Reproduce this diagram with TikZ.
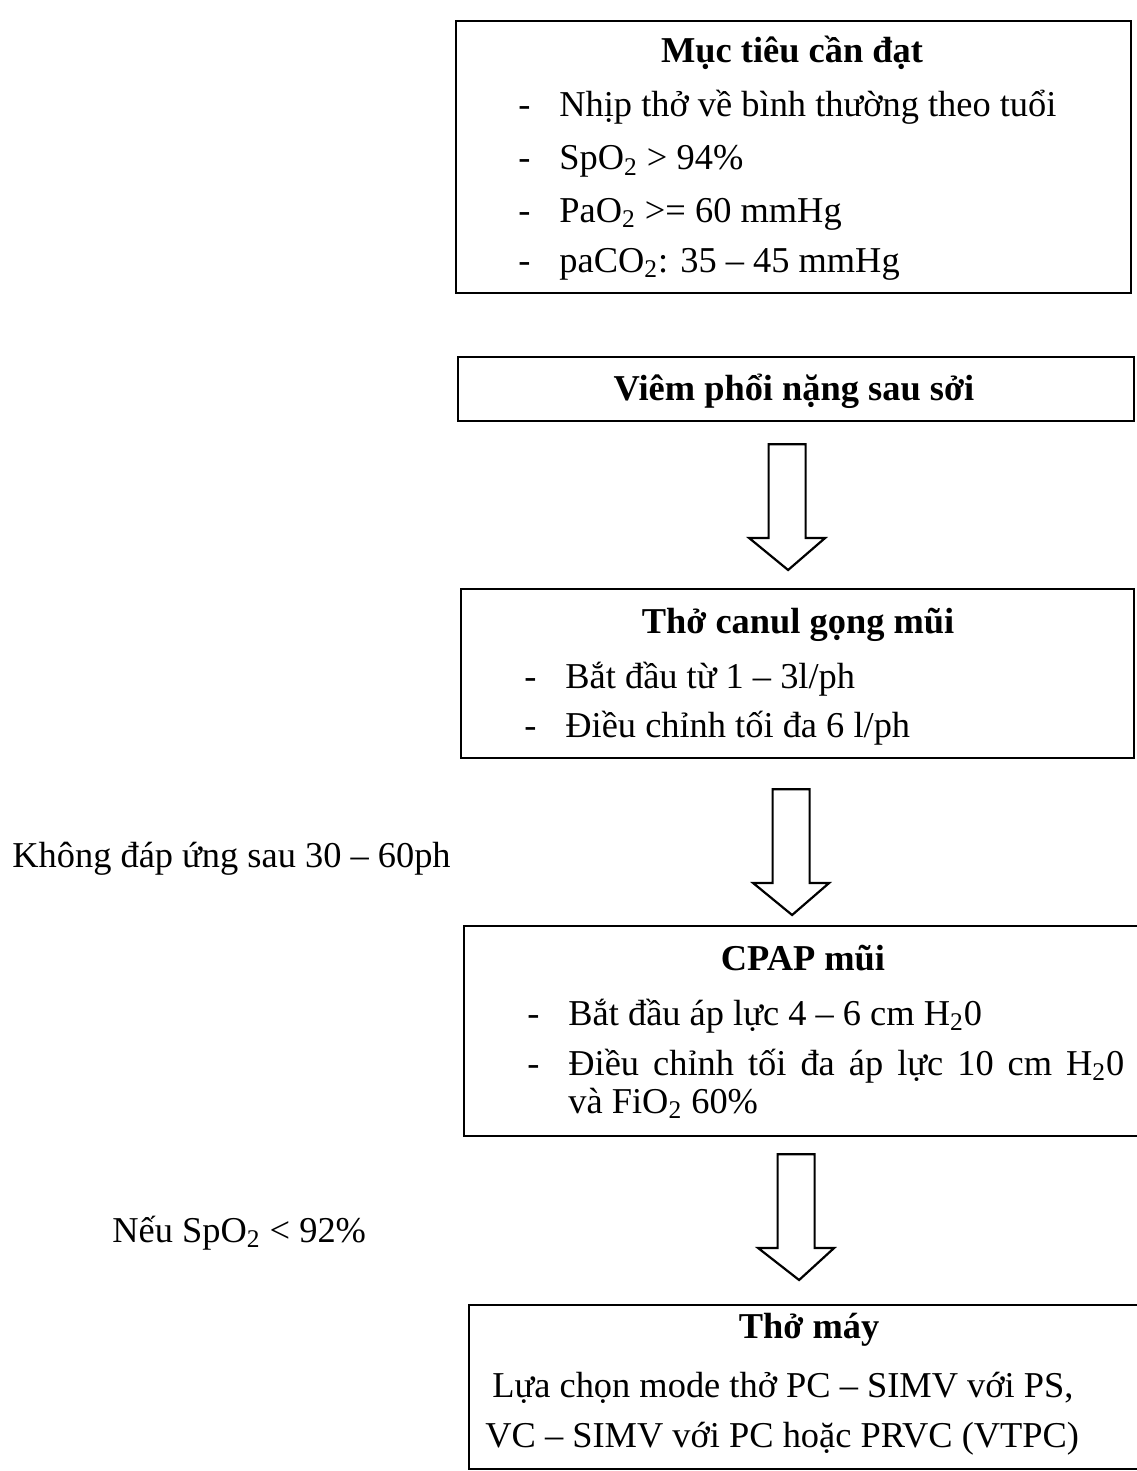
\documentclass[tikz,border=0pt]{standalone}
\usepackage{fontspec}
\setmainfont{Liberation Serif}
\usetikzlibrary{positioning,calc}

\newcommand{\itm}[1]{\makebox[20.5pt][l]{-}#1}
\newcommand{\hollowdown}[2]{%
  \draw[blockarrow] let \p1=(#1), \p2=(#2) in
    (\x1-9.25pt,\y1) -- (\x1-9.25pt,\y2+16pt) -- (\x1-19pt,\y2+16pt) -- (\x2,\y2)
    -- (\x1+19pt,\y2+16pt) -- (\x1+9.25pt,\y2+16pt) -- (\x1+9.25pt,\y1) -- cycle;}

\begin{document}
\begin{tikzpicture}[
    x=0.5pt, y=-0.5pt,
    font=\fontsize{18.2}{22}\selectfont,
    box/.style={rectangle, draw, line width=1.1pt, anchor=north west, inner sep=0pt},
    head/.style={anchor=base, inner sep=0pt, font=\fontsize{18.2}{22}\selectfont\bfseries},
    item/.style={anchor=base west, inner sep=0pt},
    blockarrow/.style={draw, line width=1.1pt, line join=miter},
]
\useasboundingbox (0,0) rectangle (1136,1471);

% boxes
\node[box, minimum width=337.5pt, minimum height=136pt] (goal) at (455,20) {};
\node[box, minimum width=338pt, minimum height=32pt] (pneumonia) at (457,356) {};
\node[box, minimum width=336.5pt, minimum height=84.5pt] (canula) at (460,588) {};
\node[box, minimum width=338pt, minimum height=105pt] (cpap) at (463,925) {};
\node[box, minimum width=345pt, minimum height=82pt] (ventilator) at (468,1304) {};

% texts in boxes
\node[head] (goaltitle) at (792,63) {Mục tiêu cần đạt};
\node[item] (goal1) at (518,117) {\itm{Nhịp thở về bình thường theo tuổi}};
\node[item] (goal2) at (518,170) {\itm{SpO\textsubscript{2} > 94\%}};
\node[item] (goal3) at (518,222) {\itm{PaO\textsubscript{2} >= 60 mmHg}};
\node[item] (goal4) at (518,272) {\itm{paCO\textsubscript{2}: 35 – 45 mmHg}};

\node[head] (pneumoniatitle) at (794,400) {Viêm phổi nặng sau sởi};

\node[head] (canulatitle) at (798,633) {Thở canul gọng mũi};
\node[item] (canula1) at (524,688) {\itm{Bắt đầu từ 1 – 3l/ph}};
\node[item] (canula2) at (524,737) {\itm{Điều chỉnh tối đa 6 l/ph}};

\node[head] (cpaptitle) at (803,970) {CPAP mũi};
\node[item] (cpap1) at (527,1025) {\itm{Bắt đầu áp lực 4 – 6 cm H\textsubscript{2}0}};
\node[item] (cpap2) at (527,1075) {\itm{\makebox[278pt][s]{Điều chỉnh tối đa áp lực 10 cm H\textsubscript{2}0}}};
\node[item] (cpap3) at (568,1113) {và FiO\textsubscript{2} 60\%};

\node[head] (ventilatortitle) at (809,1338) {Thở máy};
\node[item] (ventilator1) at (492,1397) {Lựa chọn mode thở PC – SIMV với PS,};
\node[item] (ventilator2) at (485,1447) {VC – SIMV với PC hoặc PRVC (VTPC)};

% side notes
\node[item] (noresponse) at (12,867) {Không đáp ứng sau 30 – 60ph};
\node[item] (lowspo) at (112,1242) {Nếu SpO\textsubscript{2} < 92\%};

% arrows
\coordinate (a1top) at ($(pneumonia.south)+(-9,22)$);
\coordinate (a1tip) at ($(canula.north)+(-9.5,-18)$);
\coordinate (a2top) at ($(canula.south)+(-6.5,30)$);
\coordinate (a2tip) at ($(cpap.north)+(-10,-10)$);
\coordinate (a3top) at ($(cpap.south)+(-6,17)$);
\coordinate (a3tip) at ($(ventilator.north)+(-15,-24)$);
\hollowdown{a1top}{a1tip}
\hollowdown{a2top}{a2tip}
\hollowdown{a3top}{a3tip}
\end{tikzpicture}
\end{document}
